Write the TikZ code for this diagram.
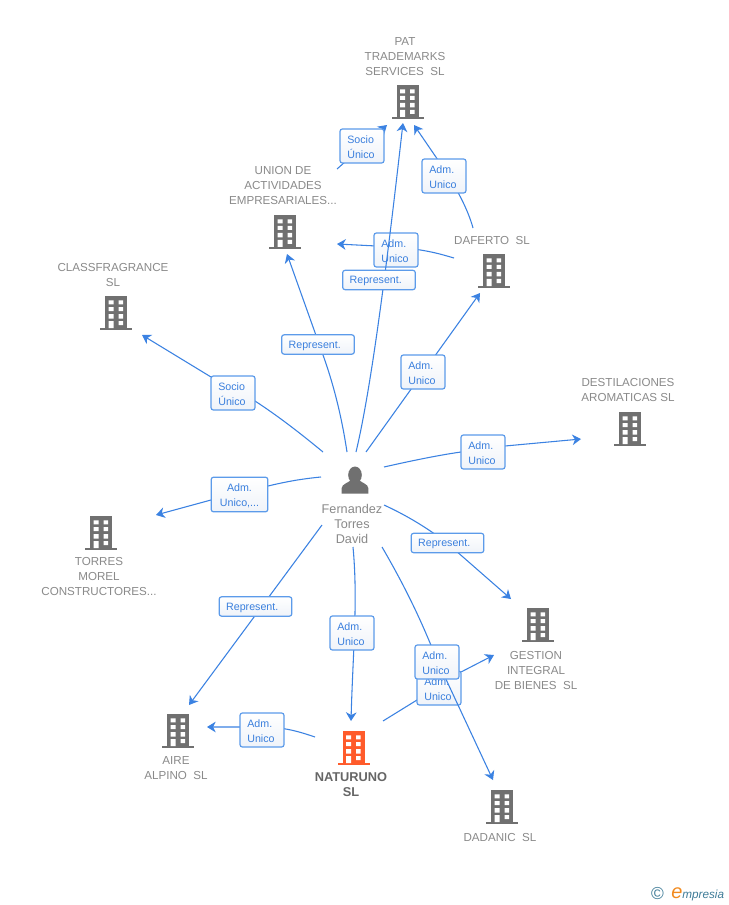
\documentclass[tikz,border=0pt]{standalone}
\usepackage{fontspec}
\setmainfont{Liberation Sans}
\usetikzlibrary{arrows.meta}
\definecolor{lnk}{HTML}{3B82E2}
\definecolor{edgeb}{HTML}{5C9BEA}
\definecolor{txtb}{HTML}{3A7FDD}
\definecolor{nam}{HTML}{8A8A8A}
\definecolor{ico}{HTML}{707070}
\definecolor{hot}{HTML}{FF5B2B}
\definecolor{logob}{HTML}{3F7C98}
\definecolor{logoo}{HTML}{F28A1E}
\definecolor{paleb}{HTML}{EFF3F9}
\tikzset{
  pics/bld/.style={code={
    \fill[#1] (-11,0) rectangle (11,32);
    \fill[#1] (-16,32) rectangle (16,34);
    \fill[white] (-7.3,4.3) rectangle (-2.3,8.3) (2.7,4.3) rectangle (7,8.3)
      (-7.3,11) rectangle (-2.3,15) (2.7,11) rectangle (7,15)
      (-7.3,18) rectangle (-2.3,22.5) (2.7,18) rectangle (7,22.5)
      (-7.3,25) rectangle (-2.3,32) (2.7,25) rectangle (7,29);
  }},
  nm/.style={font=\fontsize{8.7pt}{11.25pt}\selectfont,text=nam,align=center,inner sep=0pt},
  lnkl/.style={draw=lnk,line width=.8pt,-{Stealth[length=6.5pt,width=8pt,inset=2pt]}},
  tag/.style={draw=edgeb,line width=.9pt,top color=white,bottom color=paleb,rounded corners=1.8pt,text=txtb,inner sep=0pt,
    font=\fontsize{8pt}{11.25pt}\selectfont,align=left,execute at begin node={\rule{0pt}{7.4pt}}},
  tall/.style={tag,minimum width=33pt,minimum height=25.5pt,text width=22pt},
  wide/.style={tag,minimum width=54.5pt,minimum height=14.5pt,text width=44pt},
  tallw/.style={tag,minimum width=42.5pt,minimum height=26pt,text width=34pt,align=center},
}
\begin{document}
\begin{tikzpicture}[x=.75pt,y=-.75pt]
\useasboundingbox[fill=white] (0,0) rectangle (728,905);
% free ends of the connectors
\foreach \n/\x/\y in {a1/356/452,a2/403/123,b1/347/452,b2/287/254,c1/323/452,c2/142/335,
  d1/366/452,d2/480/293,e1/384/467,e2/581/439,f1/321/477,f2/156/515,g1/322/525,g2/189/705,
  h1/353/547,h2/351/721,i1/384/505,i2/511/599,j1/382/547,j2/493/780,k1/315/737,k2/207/727,
  l1/383/721,l2/494/655,m1/337/169,m2/387/125,n1/473/228,n2/414/125,o1/454/258,o2/337/244}
  {\coordinate (\n) at (\x,\y);}
% connectors and tags in stacking order
\draw[lnkl] (o1) .. controls (440,254) and (428,250) .. (396,247) -- (o2);
\node[tall] (to) at (396,250) {Adm.\\Unico};
\draw[lnkl] (a1) .. controls (372,385) and (388,255) .. (a2);
\node[wide] (ta) at (379,280) {Represent.};
\draw[lnkl] (b1) .. controls (341,412) and (332,380) .. (323,355) -- (b2);
\node[wide] (tb) at (318,344.5) {Represent.};
\draw[lnkl] (c1) .. controls (300,433) and (278,416) .. (255,401) -- (211,377) -- (c2);
\node[tall] (tc) at (233,393) {Socio\\Único};
\draw[lnkl] (d1) -- (d2);
\node[tall] (td) at (423,372) {Adm.\\Unico};
\draw[lnkl] (e1) .. controls (415,460) and (440,455) .. (461,452) -- (505,446) -- (e2);
\node[tall] (te) at (483,452) {Adm.\\Unico};
\draw[lnkl] (f1) .. controls (300,479) and (285,482) .. (268,486) -- (211,500) -- (f2);
\node[tallw] (tf) at (239.5,494.5) {Adm.\\Unico,...};
\draw[lnkl] (g1) -- (g2);
\node[wide] (tg) at (255.5,606.5) {Represent.};
\draw[lnkl] (h1) .. controls (358,600) and (353,650) .. (h2);
\node[tall] (th) at (352,633) {Adm.\\Unico};
\draw[lnkl] (i1) .. controls (410,517) and (430,530) .. (447,543) -- (i2);
\node[wide] (ti) at (447.5,543) {Represent.};
\draw[lnkl] (k1) .. controls (300,732) and (285,727) .. (262,727) -- (k2);
\node[tall] (tk) at (262,730) {Adm.\\Unico};
\draw[lnkl] (l1) -- (417,700) -- (461,672) -- (l2);
\node[tall] (tl) at (439,688) {Adm.\\Unico};
\draw[lnkl] (j1) .. controls (410,595) and (425,630) .. (437,660) -- (j2);
\node[tall] (tj) at (437,662) {Adm.\\Unico};
\draw[lnkl] (m1) -- (m2);
\node[tall] (tm) at (362,146) {Socio\\Único};
\draw[lnkl] (n1) .. controls (468,210) and (458,190) .. (440,163) -- (n2);
\node[tall] (tn) at (444,176) {Adm.\\Unico};
% buildings
\foreach \x/\y in {407.5/85,285/215,116/296,494/254,630/412,101/516,538/608,178/714,502/790}
  {\pic at (\x,\y) {bld=ico};}
\pic at (353.5,731) {bld=hot};
% person
\fill[ico] (355,475) ellipse (6.8 and 8.5);
\fill[ico] (341.7,493.5) -- (341.7,488) .. controls (342,484) and (348,483) .. (351,480)
  -- (359,480) .. controls (362,483) and (368,484) .. (368.3,488) -- (368.3,493.5) -- cycle;
% names
\node[nm] (pat) at (405,57) {PAT\\TRADEMARKS\\SERVICES\ \ SL};
\node[nm] (uni) at (283,186) {UNION DE\\ACTIVIDADES\\EMPRESARIALES...};
\node[nm] (cla) at (113,275.5) {CLASSFRAGRANCE\\SL};
\node[nm] (daf) at (492,241) {DAFERTO\ \ SL};
\node[nm] (des) at (628,390.5) {DESTILACIONES\\AROMATICAS SL};
\node[nm] (tor) at (99,577) {TORRES\\MOREL\\CONSTRUCTORES...};
\node[nm] (ges) at (536,670) {GESTION\\INTEGRAL\\DE BIENES\ \ SL};
\node[nm] (air) at (176,768.5) {AIRE\\ALPINO\ \ SL};
\node[nm,font=\fontsize{9.6pt}{11.25pt}\selectfont\bfseries,text=black!60] (nat) at (351,785) {NATURUNO\\SL};
\node[nm] (dad) at (500,837) {DADANIC\ \ SL};
\node[nm,font=\fontsize{9.5pt}{11.25pt}\selectfont] (per) at (352,523.5) {Fernandez\\Torres\\David};
% logo
\node[inner sep=0pt,text=logob,font=\fontsize{13pt}{13pt}\selectfont] (cp) at (657.5,894) {©};
\node[inner sep=0pt,anchor=west,font=\fontsize{8.8pt}{10pt}\selectfont\itshape,text=logob] (lg0) at (671,894.5)
  {\textcolor{logoo}{\fontsize{15pt}{15pt}\selectfont e}mpresia};
\end{tikzpicture}
\end{document}
